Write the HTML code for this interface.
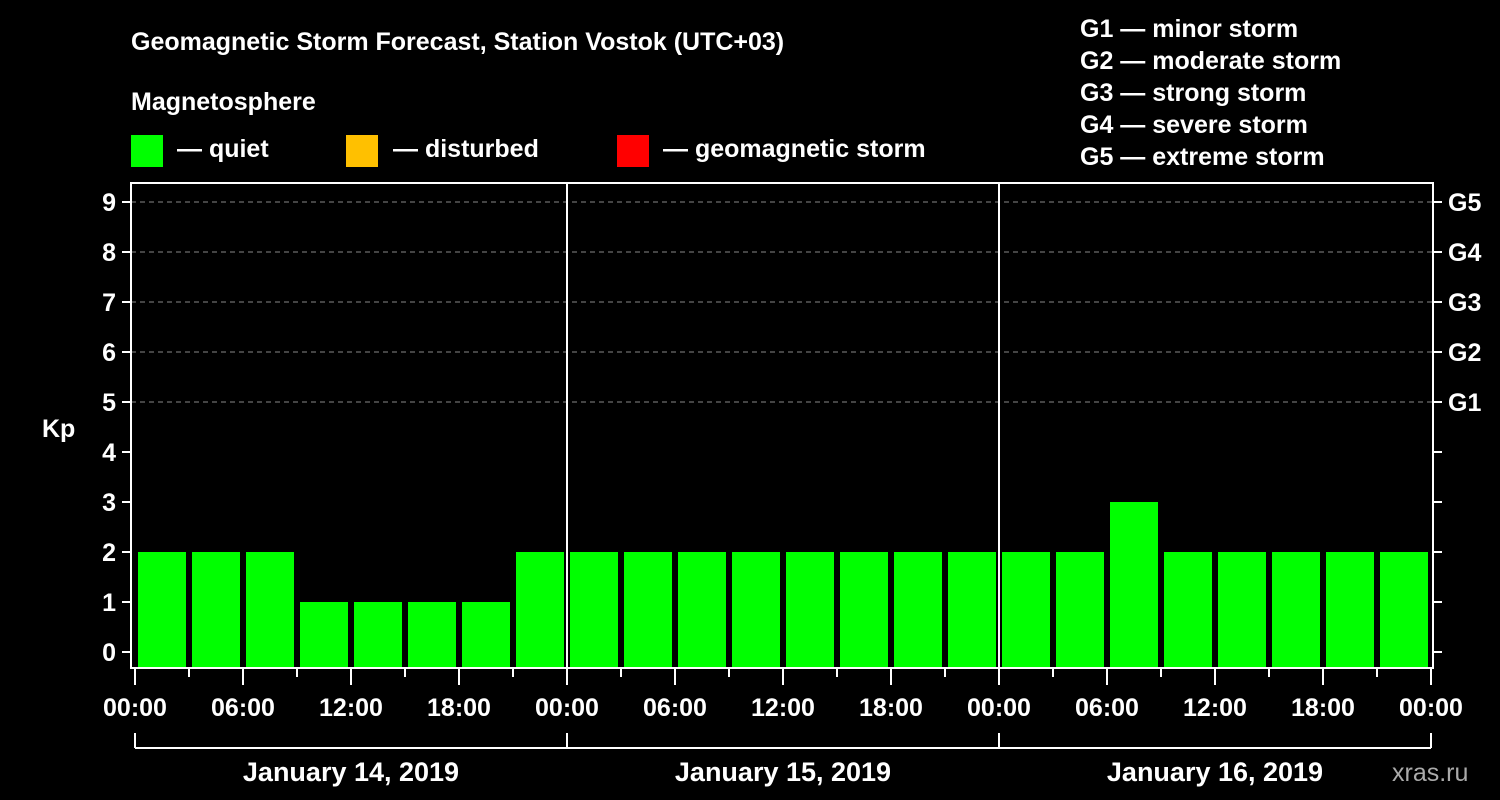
<!DOCTYPE html>
<html><head><meta charset="utf-8"><style>
body{margin:0;background:#000;}
svg{display:block;font-family:"Liberation Sans",sans-serif;font-weight:bold;}
</style></head><body>
<svg id="chart" width="1500" height="800" viewBox="0 0 1500 800">
<rect width="1500" height="800" fill="#000"/>
<g fill="#fff" font-size="25">
<text x="131" y="50">Geomagnetic Storm Forecast, Station Vostok (UTC+03)</text>
<text x="131" y="110">Magnetosphere</text>
<rect x="131" y="135" width="32" height="32" fill="#00ff00"/>
<text x="177" y="157">— quiet</text>
<rect x="346" y="135" width="32" height="32" fill="#ffc000"/>
<text x="393" y="157">— disturbed</text>
<rect x="617" y="135" width="32" height="32" fill="#ff0000"/>
<text x="663" y="157">— geomagnetic storm</text>
<text x="1080" y="37">G1 — minor storm</text>
<text x="1080" y="69">G2 — moderate storm</text>
<text x="1080" y="101">G3 — strong storm</text>
<text x="1080" y="133">G4 — severe storm</text>
<text x="1080" y="165">G5 — extreme storm</text>
<text x="42" y="437">Kp</text>
<text x="1392" y="781" fill="#aaa" font-weight="normal" font-size="25">xras.ru</text>
</g>
<g id="grid"></g><g id="bars"></g><g id="axes"></g>
</svg>
<script>
const values = [2,2,2,1,1,1,1,2, 2,2,2,2,2,2,2,2, 2,2,3,2,2,2,2,2];
const dayLabels = ["January 14, 2019","January 15, 2019","January 16, 2019"];
const yTicks = [0,1,2,3,4,5,6,7,8,9];
const gLabels = {5:"G1",6:"G2",7:"G3",8:"G4",9:"G5"};
const hourLabels = ["00:00","06:00","12:00","18:00"];
const NS="http://www.w3.org/2000/svg";
const L=131,R=1433,T=183,B=668,x0=135,dayW=432;
const y=v=>652-v*50;
const x=h=>x0+h*(dayW/24);
function mk(p,tag,a){const e=document.createElementNS(NS,tag);for(const k in a)e.setAttribute(k,a[k]);document.getElementById(p).appendChild(e);return e;}
yTicks.forEach(v=>{
 if(v>=5){const g=mk('grid','line',{x1:L,x2:R,y1:y(v),y2:y(v),stroke:'#888','stroke-dasharray':'5,4','stroke-width':1});
 
 }
 const t=mk('axes','line',{x1:L-9,x2:L,y1:y(v),y2:y(v),stroke:'#fff','stroke-width':2});
 
 
 const t2=mk('axes','line',{x1:R,x2:R+9,y1:y(v),y2:y(v),stroke:'#fff','stroke-width':2});
 
 
 const lb=mk('axes','text',{x:L-15,y:y(v)+9,fill:'#fff','font-size':25,'text-anchor':'end'});lb.textContent=v;
 
 
 if(gLabels[v]){const g=mk('axes','text',{x:R+15,y:y(v)+9,fill:'#fff','font-size':25});g.textContent=gLabels[v];
 
 }
});
values.forEach((v,i)=>{
 const c=v>=5?'#ff0000':(v>=4?'#ffc000':'#00ff00');
 const b=mk('bars','rect',{x:x(i*3)+3,y:y(v),width:48,height:B-y(v),fill:c});
 
 
});
const fr=mk('axes','rect',{x:L,y:T,width:R-L,height:B-T,fill:'none',stroke:'#fff','stroke-width':2});


for(let d=1;d<3;d++){const s=mk('axes','line',{x1:x(d*24),x2:x(d*24),y1:T,y2:B,stroke:'#fff','stroke-width':2});
 
 }
for(let h=0;h<=72;h+=3){const maj=h%6===0;
 const t=mk('axes','line',{x1:x(h),x2:x(h),y1:B,y2:B+(maj?17:9),stroke:'#fff','stroke-width':2});
 
 
 if(maj){const lb=mk('axes','text',{x:x(h),y:716,fill:'#fff','font-size':25,'text-anchor':'middle'});lb.textContent=hourLabels[(h/6)%4];
 
 }}
const br=mk('axes','path',{d:'',fill:'none',stroke:'#fff','stroke-width':2});
let d='M'+x(0)+' 748 H'+x(72);for(let i=0;i<=3;i++)d+=' M'+x(i*24)+' 733 V748';br.setAttribute('d',d);


dayLabels.forEach((s,i)=>{const t=mk('axes','text',{x:x(i*24+12),y:781,fill:'#fff','font-size':27,'text-anchor':'middle'});t.textContent=s;
 
 });
</script>
</body></html>
